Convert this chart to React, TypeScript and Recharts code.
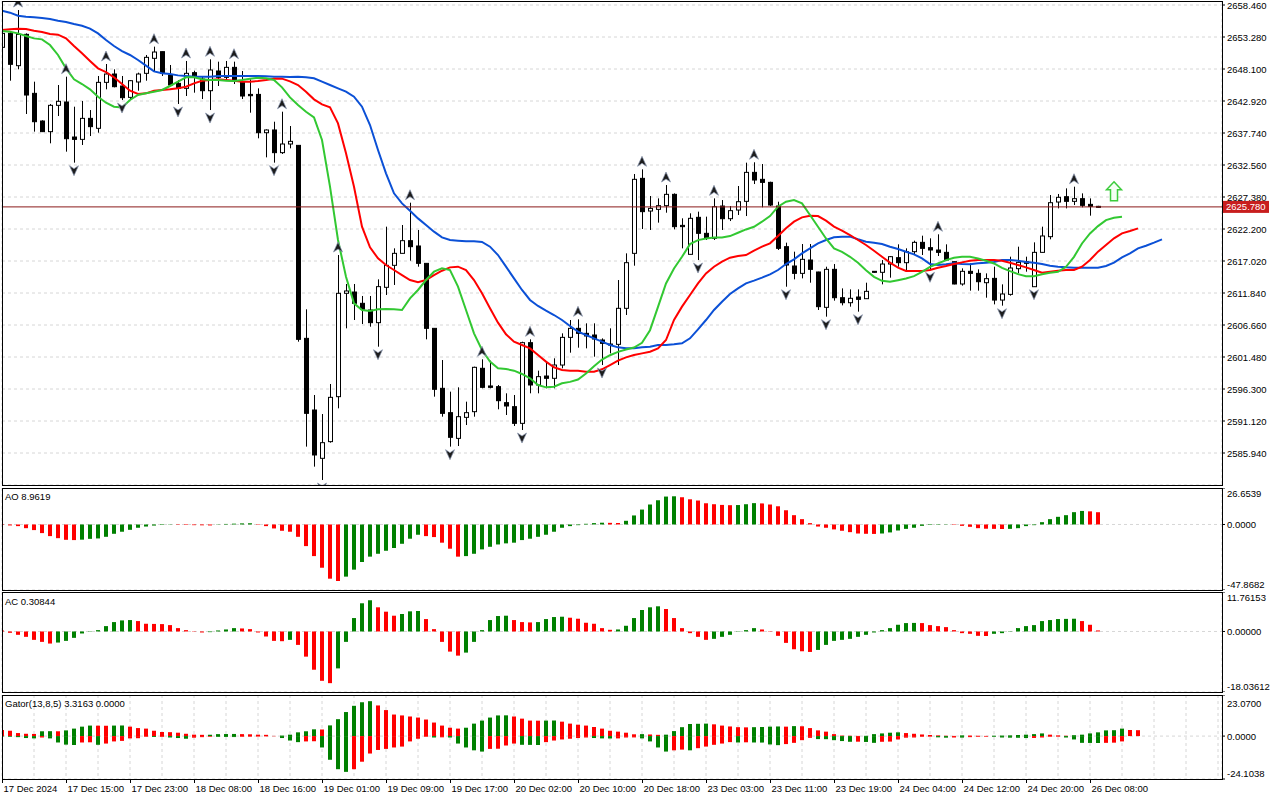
import React from "react";
import {
  ComposedChart,
  Bar,
  Line,
  XAxis,
  YAxis,
  CartesianGrid,
  Cell,
  ReferenceLine,
  ReferenceDot,
} from "recharts";

// XAUUSD H1 candles, bar 0 = 17 Dec 2024 07:00, last bar = 26 Dec 12:00
const OPEN = [
  2651.61, 2653.87, 2648.64, 2653.71, 2644.16, 2639.68, 2637.96, 2642.22, 2642.76, 2637.09,
  2636.71, 2640.11, 2638.5, 2645.94, 2647.29, 2645.35, 2643.51, 2646.0, 2647.4, 2649.83,
  2650.91, 2647.13, 2645.78, 2644.97, 2647.51, 2646.48, 2644.59, 2647.78, 2646.75, 2648.37,
  2646.05, 2643.99, 2643.99, 2637.79, 2638.23, 2634.56, 2635.96, 2635.74, 2604.5, 2592.9,
  2585.08, 2587.78, 2595.06, 2611.79, 2612.0, 2610.17, 2609.09, 2607.04, 2612.76, 2616.32,
  2618.26, 2620.31, 2619.45, 2616.64, 2606.12, 2596.41, 2592.47, 2588.31, 2591.71, 2592.63,
  2599.65, 2596.79, 2596.68, 2594.09, 2593.44, 2590.74, 2603.8, 2596.95, 2598.4, 2598.03,
  2600.18, 2604.66, 2606.12, 2605.31, 2605.04, 2604.23, 2603.58, 2603.53, 2609.36, 2618.26,
  2630.4, 2625.11, 2625.38, 2625.98, 2627.81, 2622.79, 2618.1, 2624.09, 2621.5, 2620.69,
  2625.92, 2623.87, 2625.27, 2626.68, 2631.37, 2630.24, 2629.75, 2625.92, 2619.34, 2616.21,
  2615.02, 2617.18, 2615.24, 2609.52, 2615.67, 2611.08, 2610.27, 2611.19, 2610.92, 2615.35,
  2615.19, 2616.53, 2617.56, 2616.75, 2618.53, 2620.04, 2619.18, 2618.8, 2618.42, 2616.91,
  2613.3, 2615.35, 2615.02, 2613.51, 2614.21, 2610.7, 2611.62, 2615.78, 2616.91, 2612.86,
  2618.42, 2620.96, 2626.57, 2627.43, 2626.68, 2627.11, 2626.19, 2625.87,
];
const HIGH = [
  2654.14, 2654.14, 2657.65, 2653.87, 2646.05, 2639.8, 2642.44, 2645.51, 2646.86, 2642.0,
  2642.92, 2641.46, 2646.97, 2648.91, 2648.05, 2646.97, 2646.32, 2647.51, 2650.37, 2651.72,
  2650.91, 2648.75, 2646.32, 2649.4, 2647.83, 2646.86, 2649.67, 2649.29, 2649.4, 2649.29,
  2647.78, 2646.43, 2644.97, 2638.33, 2639.57, 2641.19, 2638.87, 2635.74, 2609.2, 2595.33,
  2592.25, 2597.11, 2617.99, 2613.3, 2613.3, 2611.36, 2611.36, 2614.05, 2622.58, 2619.07,
  2622.85, 2626.46, 2622.04, 2616.64, 2606.12, 2600.99, 2595.87, 2596.57, 2594.25, 2599.92,
  2601.11, 2600.89, 2596.95, 2595.6, 2595.33, 2603.96, 2604.34, 2599.27, 2600.56, 2601.27,
  2605.31, 2607.47, 2607.58, 2606.93, 2606.93, 2604.5, 2606.12, 2613.94, 2618.26, 2631.1,
  2631.86, 2627.54, 2627.16, 2629.32, 2627.97, 2623.93, 2624.74, 2625.01, 2624.2, 2627.16,
  2626.89, 2625.92, 2629.16, 2632.94, 2633.0, 2632.72, 2629.86, 2626.62, 2619.99, 2618.53,
  2619.77, 2619.77, 2615.29, 2616.1, 2616.53, 2612.59, 2612.43, 2612.43, 2613.51, 2615.4,
  2617.18, 2617.83, 2619.72, 2619.07, 2620.31, 2621.12, 2620.69, 2621.34, 2619.72, 2616.91,
  2615.83, 2616.64, 2615.67, 2615.02, 2616.1, 2613.24, 2617.72, 2619.34, 2617.72, 2620.04,
  2622.58, 2627.7, 2627.87, 2628.78, 2629.05, 2627.97, 2627.16, 2625.95,
];
const LOW = [
  2651.18, 2646.21, 2648.05, 2640.82, 2637.96, 2637.9, 2636.07, 2640.49, 2634.72, 2632.94,
  2635.8, 2637.25, 2637.79, 2644.81, 2645.13, 2643.08, 2643.2, 2644.59, 2646.21, 2647.67,
  2646.97, 2645.35, 2642.44, 2643.73, 2644.27, 2643.24, 2641.46, 2645.35, 2646.32, 2645.67,
  2643.24, 2641.03, 2636.88, 2633.8, 2632.94, 2634.34, 2635.26, 2603.96, 2586.97, 2583.73,
  2581.57, 2587.61, 2593.17, 2606.12, 2607.47, 2606.82, 2606.39, 2603.15, 2611.52, 2613.14,
  2618.26, 2617.07, 2616.1, 2604.34, 2595.06, 2591.82, 2586.97, 2587.07, 2590.47, 2591.82,
  2596.41, 2596.41, 2593.01, 2592.09, 2590.31, 2589.66, 2595.6, 2595.6, 2596.41, 2596.41,
  2599.65, 2602.18, 2602.99, 2602.88, 2601.53, 2600.18, 2602.07, 2600.18, 2608.28, 2616.26,
  2622.2, 2622.04, 2623.23, 2624.84, 2622.15, 2619.07, 2618.1, 2617.18, 2620.42, 2620.42,
  2622.04, 2623.49, 2624.47, 2624.3, 2629.48, 2625.71, 2625.92, 2618.8, 2612.86, 2614.05,
  2614.21, 2613.51, 2609.09, 2608.01, 2610.6, 2609.84, 2609.63, 2608.82, 2610.87, 2615.13,
  2613.24, 2614.32, 2616.1, 2615.56, 2617.99, 2617.99, 2615.67, 2617.83, 2617.02, 2613.24,
  2613.03, 2612.22, 2612.22, 2611.08, 2610.0, 2609.79, 2611.41, 2615.02, 2615.29, 2612.86,
  2618.37, 2620.53, 2625.54, 2625.54, 2626.08, 2625.71, 2624.36, 2625.7,
];
const CLOSE = [
  2653.87, 2648.86, 2653.71, 2643.89, 2639.57, 2637.96, 2642.22, 2642.87, 2636.82, 2636.71,
  2640.11, 2638.77, 2645.94, 2647.29, 2645.24, 2643.46, 2646.21, 2647.29, 2649.99, 2650.85,
  2647.4, 2645.51, 2644.97, 2647.4, 2647.02, 2644.59, 2647.94, 2646.75, 2648.37, 2646.32,
  2643.73, 2643.78, 2637.79, 2638.23, 2634.56, 2635.96, 2636.39, 2604.34, 2592.36, 2585.62,
  2587.61, 2594.95, 2611.79, 2612.17, 2610.17, 2609.2, 2607.04, 2612.87, 2616.32, 2618.26,
  2620.31, 2619.34, 2616.64, 2606.12, 2596.25, 2592.36, 2588.48, 2591.82, 2592.47, 2599.81,
  2596.57, 2596.57, 2594.41, 2593.55, 2590.74, 2603.8, 2596.95, 2598.3, 2598.03, 2600.18,
  2604.66, 2606.12, 2605.31, 2604.88, 2604.39, 2603.69, 2603.42, 2609.36, 2616.75, 2630.24,
  2625.01, 2625.54, 2625.98, 2627.81, 2622.58, 2622.58, 2623.93, 2621.5, 2620.69, 2625.81,
  2623.87, 2625.17, 2626.62, 2631.37, 2630.13, 2629.75, 2626.08, 2619.07, 2616.37, 2615.02,
  2617.29, 2615.67, 2609.63, 2615.67, 2611.08, 2610.27, 2610.98, 2610.81, 2612.11, 2615.19,
  2616.53, 2617.72, 2616.75, 2618.53, 2620.04, 2619.07, 2618.8, 2618.42, 2617.18, 2613.3,
  2615.35, 2615.02, 2613.67, 2614.16, 2610.7, 2611.68, 2615.89, 2616.8, 2616.64, 2618.42,
  2621.07, 2626.46, 2627.33, 2626.68, 2627.11, 2626.03, 2625.87, 2625.78,
];

// Alligator, already shifted (jaw +8, teeth +5, lips +3 bars)
const JAW = [
  2657.54, 2657.22, 2656.73, 2656.57, 2656.46, 2656.35, 2656.19, 2655.92, 2655.71, 2655.38,
  2655.11, 2654.63, 2653.87, 2652.79, 2651.82, 2651.01, 2650.37, 2649.56, 2648.64, 2647.72,
  2647.4, 2647.29, 2647.07, 2646.97, 2646.86, 2646.86, 2646.86, 2646.97, 2646.97, 2646.97,
  2646.97, 2646.97, 2646.97, 2646.91, 2646.86, 2646.86, 2646.8, 2646.86, 2646.75, 2646.59,
  2646.05, 2645.51, 2644.97, 2644.43, 2643.62, 2642.0, 2639.03, 2634.99, 2631.21, 2627.97,
  2626.35, 2625.16, 2623.92, 2622.84, 2621.77, 2620.85, 2620.42, 2620.31, 2620.2, 2620.2,
  2620.1, 2619.34, 2617.99, 2616.1, 2614.21, 2612.33, 2610.71, 2609.74, 2608.98, 2608.28,
  2607.47, 2606.5, 2605.58, 2605.04, 2604.5, 2603.96, 2603.42, 2603.04, 2602.88, 2602.88,
  2603.04, 2603.15, 2603.42, 2603.42, 2603.53, 2603.69, 2604.5, 2605.96, 2607.47, 2609.09,
  2610.43, 2611.68, 2612.59, 2613.4, 2613.84, 2614.32, 2614.86, 2615.56, 2616.53, 2617.29,
  2618.26, 2619.07, 2619.88, 2620.42, 2620.85, 2620.96, 2620.96, 2620.53, 2620.15, 2619.99,
  2619.77, 2619.34, 2618.96, 2618.53, 2618.1, 2617.45, 2616.53, 2616.37, 2616.48, 2616.64,
  2616.53, 2616.48, 2616.64, 2616.75, 2616.86, 2617.18, 2617.18, 2617.07, 2616.86, 2616.75,
  2616.53, 2616.26, 2616.1, 2615.99, 2615.94, 2615.94, 2615.94, 2615.94, 2616.21, 2616.75,
  2617.61, 2618.26, 2619.07, 2619.5, 2619.99, 2620.53,
];
const TEETH = [
  2654.41, 2654.52, 2654.63, 2654.57, 2654.3, 2654.09, 2653.76, 2653.66, 2653.06, 2651.82,
  2650.64, 2649.4, 2648.21, 2647.61, 2646.75, 2645.67, 2644.59, 2644.05, 2644.16, 2644.59,
  2644.7, 2644.81, 2644.97, 2645.24, 2645.78, 2646.21, 2646.32, 2646.43, 2646.32, 2646.21,
  2646.05, 2646.05, 2646.16, 2646.32, 2646.54, 2646.54, 2646.1, 2645.51, 2644.43, 2643.19,
  2642.38, 2641.89, 2639.3, 2634.45, 2629.05, 2622.58, 2619.23, 2617.45, 2616.37, 2615.56,
  2614.75, 2613.94, 2613.57, 2613.94, 2614.75, 2615.45, 2615.99, 2616.1, 2615.56, 2613.94,
  2611.79, 2609.36, 2607.04, 2605.15, 2603.96, 2603.42, 2602.88, 2601.81, 2600.73, 2599.81,
  2599.38, 2599.27, 2599.27, 2599.11, 2599.11, 2599.49, 2600.18, 2600.89, 2601.42, 2601.8,
  2602.07, 2602.34, 2602.88, 2604.23, 2607.47, 2609.63, 2611.52, 2613.4, 2615.02, 2616.1,
  2616.91, 2617.56, 2617.83, 2617.99, 2618.69, 2619.34, 2619.88, 2621.07, 2622.31, 2623.39,
  2624.09, 2624.36, 2624.3, 2623.55, 2622.58, 2621.93, 2621.23, 2620.42, 2619.61, 2618.69,
  2617.72, 2616.75, 2615.94, 2615.4, 2615.4, 2615.4, 2615.56, 2615.94, 2616.21, 2616.53,
  2616.8, 2617.07, 2617.18, 2617.18, 2617.18, 2617.07, 2616.75, 2616.37, 2615.99, 2615.56,
  2615.13, 2615.29, 2615.45, 2615.56, 2615.56, 2616.1, 2617.18, 2618.53, 2619.61, 2620.69,
  2621.5, 2621.88, 2622.31,
];
const LIPS = [
  2654.25, 2654.14, 2653.87, 2653.44, 2653.06, 2652.9, 2651.98, 2650.37, 2648.21, 2646.43,
  2645.67, 2644.81, 2643.62, 2642.65, 2642.0, 2641.89, 2643.08, 2643.89, 2644.16, 2644.43,
  2644.7, 2645.35, 2646.05, 2646.75, 2646.75, 2646.43, 2646.32, 2646.32, 2646.21, 2646.16,
  2646.32, 2646.54, 2646.7, 2646.59, 2646.32, 2645.13, 2643.51, 2642.27, 2641.19, 2640.28,
  2636.61, 2629.05, 2620.42, 2614.48, 2610.17, 2609.09, 2608.93, 2609.2, 2609.25, 2609.2,
  2609.09, 2610.98, 2612.33, 2613.94, 2615.29, 2615.83, 2615.56, 2612.87, 2609.09, 2605.31,
  2602.61, 2600.73, 2599.65, 2599.54, 2599.27, 2598.73, 2598.03, 2596.95, 2596.57, 2596.68,
  2597.22, 2597.45, 2597.83, 2598.8, 2599.99, 2601.07, 2601.77, 2602.31, 2602.69, 2603.02,
  2603.77, 2605.82, 2609.6, 2613.38, 2615.81, 2617.7, 2619.75, 2620.4, 2620.67, 2620.84,
  2620.84, 2621.05, 2621.59, 2622.13, 2622.57, 2623.38, 2624.3, 2625.81, 2626.62, 2626.89,
  2626.35, 2624.46, 2622.57, 2620.67, 2619.05, 2618.51, 2617.7, 2616.73, 2615.54, 2614.46,
  2613.81, 2613.65, 2613.92, 2614.19, 2614.57, 2615.27, 2616.08, 2616.62, 2617.16, 2617.54,
  2617.7, 2617.7, 2617.43, 2617.05, 2616.62, 2615.92, 2615.38, 2614.89, 2614.57, 2614.57,
  2614.89, 2615.11, 2615.27, 2616.08, 2617.7, 2619.86, 2621.48, 2622.67, 2623.64, 2624.02,
  2624.18,
];

const FRACTAL_UP = [2, 8, 13, 19, 23, 26, 29, 35, 42, 51, 60, 66, 72, 80, 83, 89, 94, 117, 134];
const FRACTAL_DOWN = [9, 15, 22, 26, 34, 40, 47, 56, 65, 75, 87, 98, 103, 107, 116, 125, 129];

const AO = [
  -0.3, -0.7, -1.2, -2.7, -4.1, -6.3, -8.5, -10.0, -11.2, -11.4,
  -11.1, -10.5, -10.2, -9.0, -6.8, -5.3, -3.9, -2.4, -1.5, -0.8,
  -0.4, -0.2, -0.3, -0.4, -0.5, -0.6, -0.7, -0.2, 0.4, 0.6,
  0.8, 0.9, 0.3, -1.2, -2.9, -4.6, -5.3, -9.0, -15.8, -23.1,
  -31.6, -39.6, -41.3, -38.1, -33.0, -27.4, -23.5, -21.4, -19.2, -17.2,
  -14.1, -10.4, -7.5, -8.5, -9.2, -13.3, -17.7, -23.5, -23.1, -21.4,
  -18.2, -16.3, -14.6, -13.8, -13.3, -11.4, -10.4, -9.0, -7.5, -5.3,
  -2.4, -1.2, -0.5, 0.5, 1.0, 1.3, 1.2, 1.1, 2.7, 6.6,
  10.9, 14.6, 17.7, 20.4, 20.6, 19.9, 18.4, 17.5, 15.5, 14.8,
  14.3, 14.1, 14.2, 14.8, 15.6, 15.4, 14.6, 13.3, 10.4, 6.8,
  3.9, 1.0, -1.5, -2.4, -3.6, -4.6, -5.6, -6.6, -6.8, -6.9,
  -6.6, -5.8, -4.4, -3.2, -2.4, -1.0, -0.4, -0.3, -0.2, -0.3,
  -1.0, -1.7, -2.7, -3.1, -3.2, -3.3, -3.2, -2.7, -1.2, -0.5,
  1.7, 3.9, 5.6, 6.8, 9.0, 9.9, 9.6, 8.9619,
];
const AC = [
  0.3, -0.4, -1.0, -1.6, -2.5, -3.1, -3.6, -3.3, -2.8, -1.9,
  -0.6, -0.1, 0.4, 1.6, 2.8, 3.3, 3.4, 3.1, 2.3, 2.25,
  2.2, 1.9, 1.0, 0.4, -0.1, -0.3, -0.2, 0.3, 0.6, 1.0,
  0.9, 0.7, -0.3, -1.5, -2.8, -2.9, -2.5, -4.0, -7.5, -11.4,
  -14.7, -15.4, -11.0, -3.1, 4.0, 8.4, 9.3, 7.2, 5.9, 4.7,
  5.2, 6.0, 6.1, 3.7, 0.7, -3.1, -6.0, -7.2, -6.3, -3.1,
  0.4, 3.4, 4.6, 4.7, 3.4, 2.8, 2.7, 2.8, 3.7, 4.3,
  4.4, 4.1, 3.8, 2.6, 2.3, 1.0, 0.5, 0.6, 1.7, 4.0,
  6.4, 7.2, 7.5, 6.7, 4.0, 1.0, -0.5, -1.6, -2.5, -2.2,
  -1.6, -1.0, -0.1, 0.4, 1.0, 0.6, -0.1, -1.3, -3.4, -5.3,
  -5.9, -6.1, -5.5, -4.0, -2.8, -2.5, -2.2, -1.6, -1.0, -0.3,
  0.4, 1.0, 2.0, 2.5, 2.55, 2.5, 1.9, 1.6, 1.3, 0.4,
  -0.5, -0.7, -1.3, -1.35, -0.7, -0.5, -0.1, 1.0, 1.6, 1.9,
  3.1, 3.4, 3.7, 3.75, 3.8, 3.1, 2.0, 0.30844,
];
const GATOR_UP = [
  3.4, 3.0, 1.7, 1.3, 1.2, 2.7, 2.75, 2.7, 3.2, 4.2,
  5.3, 5.9, 5.85, 5.8, 5.9, 5.95, 5.3, 4.5, 4.2, 3.0,
  2.3, 2.2, 1.9, 1.3, 0.8, 0.7, 0.75, 1.1, 1.15, 1.2,
  1.1, 1.0, 0.8, 0.7, 0.1, 0.3, 0.8, 2.1, 2.7, 3.8,
  3.7, 6.0, 9.5, 13.5, 17.0, 19.0, 19.6, 17.2, 14.6, 12.1,
  11.6, 11.0, 10.4, 9.3, 7.6, 5.9, 4.7, 4.2, 4.7, 7.0,
  8.7, 10.4, 11.6, 11.65, 11.0, 9.8, 8.7, 8.65, 8.7, 8.75,
  8.1, 7.0, 6.4, 5.9, 5.1, 4.2, 3.0, 2.5, 1.9, 1.0,
  1.1, 0.9, 0.7, 0.8, 2.8, 5.0, 6.8, 6.9, 7.0, 6.6,
  5.9, 5.4, 5.0, 4.9, 5.0, 5.1, 5.3, 5.4, 5.3, 5.6,
  5.5, 4.5, 3.2, 2.5, 1.1, 0.3, 0.2, 0.1, 0.15, 1.1,
  1.5, 1.9, 2.1, 1.7, 1.3, 0.9, 0.6, 0.4, 0.2, 0.1,
  0.4, 0.3, 0.2, 0.1, 0.2, 0.3, 0.4, 0.6, 0.8, 1.1,
  1.5, 0.8, 0.4, 0.2, 0.5, 0.8, 1.5, 2.1, 3.2, 3.3,
  4.2, 3.4, 3.3163,
];
const GATOR_DOWN = [
  -0.3, -0.4, -0.6, -1.1, -1.3, -0.8, -1.3, -3.6, -4.8, -5.0,
  -3.6, -3.5, -4.9, -4.2, -3.0, -2.7, -1.3, -1.2, -0.4, -0.5,
  -0.45, -0.8, -1.1, -1.5, -0.9, -0.6, -0.4, -0.45, -0.5, -0.55,
  -0.4, -0.35, -0.3, -0.2, -0.1, -1.1, -2.5, -3.4, -3.0, -2.9,
  -6.4, -13.3, -18.6, -20.1, -18.6, -14.4, -9.8, -7.8, -7.2, -6.4,
  -5.9, -3.0, -1.5, -0.4, -0.8, -0.7, -0.8, -4.2, -6.4, -8.0,
  -8.7, -7.2, -7.1, -5.3, -4.2, -4.9, -4.95, -5.0, -3.4, -2.5,
  -1.9, -1.5, -1.1, -0.8, -1.1, -1.3, -1.35, -1.3, -0.8, -0.75,
  -1.3, -3.0, -6.4, -8.7, -8.0, -7.6, -8.0, -6.8, -5.9, -4.9,
  -4.2, -3.4, -3.6, -3.5, -3.6, -3.65, -4.7, -5.1, -4.5, -3.8,
  -2.3, -1.0, -1.7, -1.75, -2.3, -2.8, -3.2, -3.15, -3.3, -3.8,
  -3.2, -3.1, -1.9, -0.9, -0.8, -0.4, -0.35, -0.7, -0.9, -0.8,
  -0.85, -0.6, -0.4, -0.35, -0.4, -0.8, -0.9, -0.95, -1.1, -1.05,
  -0.8, -0.4, -0.35, -0.8, -1.9, -3.8, -3.85, -3.9, -3.8, -3.7,
  -3.0,
];

const PRICE_TICKS = [
  2585.94, 2591.12, 2596.3, 2601.48, 2606.66, 2611.84, 2617.02, 2622.2,
  2627.38, 2632.56, 2637.74, 2642.92, 2648.1, 2653.28, 2658.46,
];
const LABEL_BARS = [0, 8, 16, 24, 32, 40, 48, 56, 64, 72, 80, 88, 96, 104, 112, 120, 128, 136];
const LABEL_TEXT = [
  "17 Dec 2024", "17 Dec 15:00", "17 Dec 23:00", "18 Dec 08:00", "18 Dec 16:00", "19 Dec 01:00",
  "19 Dec 09:00", "19 Dec 17:00", "20 Dec 02:00", "20 Dec 10:00", "20 Dec 18:00", "23 Dec 03:00",
  "23 Dec 11:00", "23 Dec 19:00", "24 Dec 04:00", "24 Dec 12:00", "24 Dec 20:00", "26 Dec 08:00",
];
const LAST_PRICE = 2625.78;
const SIGNAL_BAR = 139;
const SIGNAL_PRICE = 2628.3;

const AO_RANGE = [-47.8682, 26.6539];
const AC_RANGE = [-18.03612, 11.76153];
const GATOR_RANGE = [-24.1038, 23.07];

const GREEN = "#008000";
const RED = "#ff0000";
const FONT = "'Liberation Sans', Arial, sans-serif";
const FS = 9.5;
const SLOTS = 152.5; // 8px per bar over the 1220px plot
const GRID_X = Array.from({ length: 39 }, (_, k) => k * 4);

// green when the bar grows, red when it shrinks (abs for the gator)
function trend(values: number[], first: string, useAbs = false) {
  const out: string[] = [];
  values.forEach((v, i) => {
    if (i === 0) return out.push(first);
    const a = useAbs ? Math.abs(v) : v;
    const b = useAbs ? Math.abs(values[i - 1]) : values[i - 1];
    out.push(a > b ? GREEN : a < b ? RED : out[i - 1]);
  });
  return out;
}
const AO_COL = trend(AO, RED);
const AC_COL = trend(AC, RED);
const GU_COL = trend(GATOR_UP, RED, true);
const GD_COL = trend(GATOR_DOWN, GREEN, true);

const rows = Array.from({ length: 146 }, (_, i) => ({
  i,
  hl: i < OPEN.length ? [LOW[i], HIGH[i]] : null,
  open: OPEN[i] ?? null,
  high: HIGH[i] ?? null,
  low: LOW[i] ?? null,
  close: CLOSE[i] ?? null,
  jaw: JAW[i] ?? null,
  teeth: TEETH[i] ?? null,
  lips: LIPS[i] ?? null,
  fu: FRACTAL_UP.includes(i) ? HIGH[i] : null,
  fd: FRACTAL_DOWN.includes(i) ? LOW[i] : null,
  ao: AO[i] ?? null,
  ac: AC[i] ?? null,
  gu: GATOR_UP[i] ?? null,
  gd: GATOR_DOWN[i] ?? null,
}));

function Candle(props: any) {
  const { x, y, width, height, payload } = props;
  if (!payload || payload.open == null) return <g />;
  const { open, close, high, low } = payload;
  const top = Math.min(y, y + height);
  const bot = Math.max(y, y + height);
  const span = high - low;
  const py = (v: number) => (span > 0 ? top + ((high - v) / span) * (bot - top) : top);
  const cx = Math.round(x + width / 2) + 0.5;
  const yo = py(open);
  const yc = py(close);
  const bTop = Math.min(yo, yc);
  const bH = Math.max(Math.abs(yo - yc), 1);
  return (
    <g>
      <line x1={cx} x2={cx} y1={top} y2={Math.max(bot, top + 1)} stroke="#000" />
      <rect x={cx - 2} y={bTop} width={4} height={bH} fill={close >= open ? "#fff" : "#000"} stroke="#000" />
    </g>
  );
}

function fractalDot(dir: 1 | -1) {
  return (p: any) => {
    const { cx, cy, value, index } = p;
    if (value == null || cy == null || cx == null) return <g key={`f${dir}${index}`} />;
    const y = cy - 8 * dir;
    const d = `M${cx},${y - 5 * dir} L${cx + 4.5},${y + 5 * dir} L${cx},${y + 2 * dir} L${cx - 4.5},${y + 5 * dir} Z`;
    return <path key={`f${dir}${index}`} d={d} fill="#1c1c1c" stroke="#8a97b0" strokeWidth={0.7} />;
  };
}

function PriceTick(p: any) {
  return (
    <text x={p.x} y={p.y} dominantBaseline="central" fontSize={FS} fontFamily={FONT} fill="#000">
      {Number(p.payload.value).toFixed(3)}
    </text>
  );
}

function panelTick(range: number[], digits: number, topShift: number) {
  return (p: any) => {
    const v = Number(p.payload.value);
    const dy = v === range[1] ? topShift : v === range[0] ? -6 : 0;
    return (
      <text x={p.x} y={p.y + dy} dominantBaseline="central" fontSize={FS} fontFamily={FONT} fill="#000">
        {v.toFixed(digits)}
      </text>
    );
  };
}

function TimeTick(p: any) {
  const k = LABEL_BARS.indexOf(Number(p.payload.value));
  if (k < 0) return <g />;
  const x = Math.round(p.x) + 0.5;
  return (
    <g>
      <line x1={x} x2={x} y1={p.y - 6} y2={p.y - 2} stroke="#000" />
      <text x={x + 1} y={p.y + 3} dominantBaseline="central" fontSize={FS} fontFamily={FONT} fill="#000">
        {LABEL_TEXT[k]}
      </text>
    </g>
  );
}

function PriceTag(p: any) {
  const vb = p.viewBox;
  if (!vb) return null;
  const x = vb.x + vb.width + 1;
  return (
    <g>
      <rect x={x} y={vb.y - 6} width={46} height={12} fill="#c81e1e" />
      <text x={x + 3} y={vb.y} dominantBaseline="central" fontSize={FS} fontFamily={FONT} fill="#fff">
        {LAST_PRICE.toFixed(3)}
      </text>
    </g>
  );
}

function SignalArrow(p: any) {
  const { cx, cy } = p;
  const pts = [
    [0, -9.5], [7.5, -1.5], [3.5, -1.5], [3.5, 9.5], [-3.5, 9.5], [-3.5, -1.5], [-7.5, -1.5],
  ]
    .map(([dx, dy]) => `${cx + dx},${cy + dy}`)
    .join(" ");
  return <polygon points={pts} fill="#f4fff4" stroke="#3ccc3c" strokeWidth={1.5} />;
}

const MARGIN = { top: 0, right: 0, bottom: 0, left: 2 };
const GRID = <CartesianGrid stroke="#d6d6d6" strokeDasharray="3 3" />;

function hiddenX() {
  return (
    <XAxis
      dataKey="i"
      type="number"
      domain={[0, SLOTS]}
      ticks={GRID_X}
      allowDataOverflow
      height={0}
      tick={false}
      axisLine={false}
      tickLine={false}
    />
  );
}

function panelY(range: number[], digits: number, topShift: number) {
  return (
    <YAxis
      orientation="right"
      width={58}
      domain={range}
      ticks={[range[0], 0, range[1]]}
      interval={0}
      allowDataOverflow
      axisLine={false}
      tickSize={3}
      tickMargin={2}
      tickLine={{ stroke: "#000" }}
      tick={panelTick(range, digits, topShift)}
    />
  );
}

function Frame({ top, height }: { top: number; height: number }) {
  return (
    <div
      style={{
        position: "absolute",
        left: 2,
        top,
        width: 1221,
        height,
        border: "1px solid #000",
        boxSizing: "border-box",
        pointerEvents: "none",
      }}
    />
  );
}

function Caption({ top, text }: { top: number; text: string }) {
  return (
    <div style={{ position: "absolute", left: 5, top, fontFamily: FONT, fontSize: FS, color: "#000", lineHeight: "11px" }}>
      {text}
    </div>
  );
}

export default function App() {
  return (
    <div style={{ position: "absolute", left: 0, top: 0, width: 1280, height: 800, background: "#fff", overflow: "hidden" }}>
      {/* price panel */}
      <div style={{ position: "absolute", left: 0, top: 1 }}>
        <ComposedChart width={1280} height={484} data={rows} margin={MARGIN}>
          {GRID}
          {hiddenX()}
          <YAxis
            orientation="right"
            width={58}
            domain={[2580.76, 2659.11]}
            ticks={PRICE_TICKS}
            interval={0}
            allowDataOverflow
            axisLine={false}
            tickSize={3}
            tickMargin={2}
            tickLine={{ stroke: "#000" }}
            tick={<PriceTick />}
          />
          <Bar dataKey="hl" barSize={5} shape={(p: any) => <Candle {...p} />} isAnimationActive={false} />
          <Line dataKey="jaw" type="linear" stroke="#0b50d6" strokeWidth={2} dot={false} activeDot={false} isAnimationActive={false} />
          <Line dataKey="teeth" type="linear" stroke="#ff0000" strokeWidth={2} dot={false} activeDot={false} isAnimationActive={false} />
          <Line dataKey="lips" type="linear" stroke="#32c832" strokeWidth={2} dot={false} activeDot={false} isAnimationActive={false} />
          <Line dataKey="fu" stroke="none" dot={fractalDot(1)} activeDot={false} isAnimationActive={false} />
          <Line dataKey="fd" stroke="none" dot={fractalDot(-1)} activeDot={false} isAnimationActive={false} />
          <ReferenceLine y={LAST_PRICE} stroke="#8b1a1a" strokeWidth={1} label={<PriceTag />} />
          <ReferenceDot x={SIGNAL_BAR} y={SIGNAL_PRICE} r={0} shape={(p: any) => <SignalArrow {...p} />} />
        </ComposedChart>
      </div>
      <Frame top={1} height={485} />

      {/* Awesome Oscillator */}
      <div style={{ position: "absolute", left: 0, top: 488 }}>
        <ComposedChart width={1280} height={102} data={rows} margin={MARGIN}>
          {GRID}
          {hiddenX()}
          {panelY(AO_RANGE, 4, 5)}
          <Bar dataKey="ao" barSize={4} isAnimationActive={false}>
            {rows.map((r, i) => (
              <Cell key={i} fill={AO_COL[i] ?? GREEN} />
            ))}
          </Bar>
        </ComposedChart>
      </div>
      <Frame top={488} height={103} />
      <Caption top={491} text="AO 8.9619" />

      {/* Accelerator Oscillator */}
      <div style={{ position: "absolute", left: 0, top: 592 }}>
        <ComposedChart width={1280} height={100} data={rows} margin={MARGIN}>
          {GRID}
          {hiddenX()}
          {panelY(AC_RANGE, 5, 5)}
          <Bar dataKey="ac" barSize={4} isAnimationActive={false}>
            {rows.map((r, i) => (
              <Cell key={i} fill={AC_COL[i] ?? GREEN} />
            ))}
          </Bar>
        </ComposedChart>
      </div>
      <Frame top={592} height={101} />
      <Caption top={596} text="AC 0.30844" />

      {/* Gator */}
      <div style={{ position: "absolute", left: 0, top: 695 }}>
        <ComposedChart width={1280} height={105} data={rows} margin={MARGIN} stackOffset="sign">
          {GRID}
          <XAxis
            dataKey="i"
            type="number"
            domain={[0, SLOTS]}
            ticks={GRID_X}
            interval={0}
            allowDataOverflow
            height={21}
            axisLine={false}
            tickLine={false}
            tickSize={4}
            tickMargin={2}
            tick={<TimeTick />}
          />
          {panelY(GATOR_RANGE, 4, 8)}
          <Bar dataKey="gu" stackId="g" barSize={4} isAnimationActive={false}>
            {rows.map((r, i) => (
              <Cell key={i} fill={GU_COL[i] ?? GREEN} />
            ))}
          </Bar>
          <Bar dataKey="gd" stackId="g" barSize={4} isAnimationActive={false}>
            {rows.map((r, i) => (
              <Cell key={i} fill={GD_COL[i] ?? GREEN} />
            ))}
          </Bar>
        </ComposedChart>
      </div>
      <Frame top={695} height={85} />
      <Caption top={698} text="Gator(13,8,5) 3.3163 0.0000" />
    </div>
  );
}
